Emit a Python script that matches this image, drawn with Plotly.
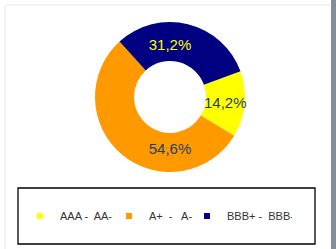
import plotly.graph_objects as go

categories = ["AAA -  AA-", "A+  -   A-", "BBB+ -  BBB-"]
values = [14.2, 54.6, 31.2]
colors = ["#FFFF00", "#FF9900", "#000080"]
text_colors = ["#1F3F66", "#1F3F66", "#FFFF00"]
legend_widths = [44, 33, 60]

W, H = 336, 249
cx, cy, r = 170, 97, 75

fig = go.Figure()
fig.add_trace(go.Pie(
    labels=categories, values=values, sort=False, direction="clockwise",
    rotation=70, hole=0.48,
    marker=dict(colors=colors, line=dict(width=0)),
    texttemplate="%{percent:.1%}", textposition="inside",
    insidetextorientation="horizontal",
    textfont=dict(family="Liberation Sans, Arial", size=15, color=text_colors),
    showlegend=False, hoverinfo="skip",
    domain=dict(x=[(cx - r) / W, (cx + r) / W], y=[(H - cy - r) / H, (H - cy + r) / H]),
))
for name, c, lw in zip(categories, colors, legend_widths):
    fig.add_trace(go.Scatter(x=[None], y=[None], mode="markers", name=name,
                             legendwidth=lw,
                             marker=dict(symbol="square", size=6, color=c)))

fig.update_layout(
    width=W, height=H, margin=dict(l=0, r=0, t=0, b=0),
    paper_bgcolor="white", plot_bgcolor="white",
    separators=", ",
    uniformtext=dict(minsize=15, mode="show"),
    xaxis=dict(visible=False), yaxis=dict(visible=False),
    legend=dict(orientation="h", x=20 / W, xanchor="left", y=33 / H, yanchor="middle",
                font=dict(family="Liberation Sans, Arial", size=11, color="#333333"),
                itemwidth=30, bgcolor="rgba(0,0,0,0)"),
    shapes=[
        dict(type="rect", xref="paper", yref="paper", x0=18 / W, x1=315 / W,
             y0=(H - 244) / H, y1=(H - 188) / H, line=dict(color="black", width=1.3)),
        dict(type="rect", xref="paper", yref="paper", x0=331 / W, x1=1,
             y0=0, y1=1, fillcolor="#878E98", line=dict(width=0), layer="above"),
        dict(type="line", xref="paper", yref="paper", x0=5 / W, x1=5 / W,
             y0=0, y1=(H - 6) / H, line=dict(color="#F2F2F2", width=2)),
        dict(type="line", xref="paper", yref="paper", x0=5 / W, x1=330 / W,
             y0=(H - 5) / H, y1=(H - 5) / H, line=dict(color="#F4F4F4", width=2)),
    ],
)
fig.write_html(
    "out.html", config={"displayModeBar": False},
    post_script=(
        "var s=document.createElement('style');"
        "s.textContent='html,body{margin:0;padding:0;overflow:hidden;width:336px;height:249px;}';"
        "document.head.appendChild(s);"
    ),
)
